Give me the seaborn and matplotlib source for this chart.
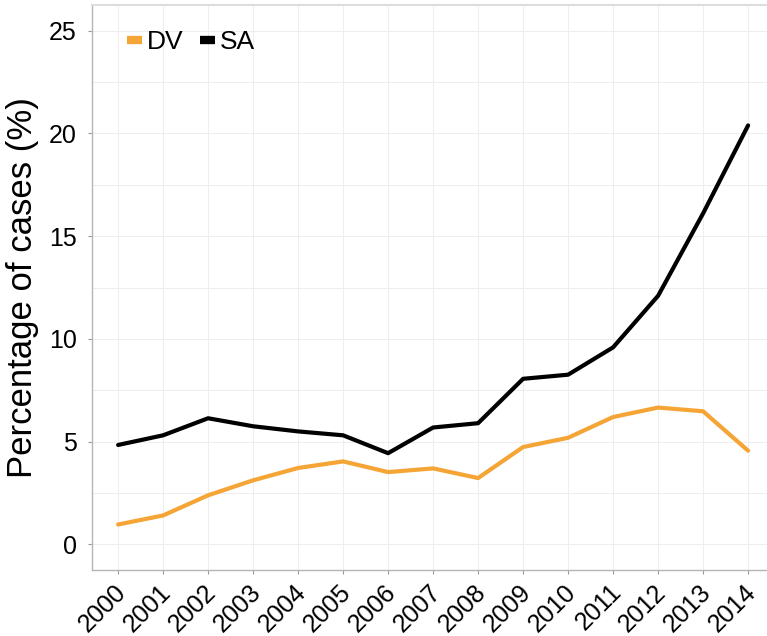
import numpy as np
import pandas as pd
import matplotlib
matplotlib.use("Agg")
import matplotlib.pyplot as plt
from matplotlib.ticker import MultipleLocator
from matplotlib.transforms import ScaledTranslation
import seaborn as sns

years = list(range(2000, 2015))
dv_values = [0.97, 1.41, 2.39, 3.12, 3.72, 4.04, 3.52, 3.70, 3.23, 4.74, 5.19, 6.20, 6.66, 6.48, 4.56]
sa_values = [4.84, 5.31, 6.14, 5.75, 5.50, 5.31, 4.44, 5.69, 5.90, 8.06, 8.26, 9.59, 12.10, 16.11, 20.39]
series_names = ["DV", "SA"]
colors = {"DV": "#F5A536", "SA": "#000000"}
y_label = "Percentage of cases (%)"

df = pd.concat([
    pd.DataFrame({"year": years, "pct": dv_values, "type": "DV"}),
    pd.DataFrame({"year": years, "pct": sa_values, "type": "SA"}),
])

sns.set_theme(style="white")
plt.rcParams["font.family"] = ["Liberation Sans", "DejaVu Sans"]
plt.rcParams["text.color"] = "black"
plt.rcParams["axes.labelcolor"] = "black"
plt.rcParams["xtick.color"] = "black"
plt.rcParams["ytick.color"] = "black"

fig = plt.figure(figsize=(7.67, 6.36), dpi=100)
ax = fig.add_axes([92 / 767, 1 - 569.5 / 636, 1 - 92 / 767, (569.5 - 5) / 636])

sns.lineplot(data=df, x="year", y="pct", hue="type", hue_order=series_names,
             palette=colors, linewidth=3.0, ax=ax, legend=True)

ax.set_xlim(1999.42, 2014.42)
ax.set_ylim(-1.22, 26.25)
ax.set_xticks(years)
ax.set_xticklabels([str(y) for y in years], rotation=45, ha="right", va="center",
                   rotation_mode="anchor", fontsize=18)
ax.yaxis.set_major_locator(MultipleLocator(5))
ax.yaxis.set_minor_locator(MultipleLocator(2.5))
ax.tick_params(axis="y", labelsize=18, pad=8)
ax.tick_params(axis="x", pad=10.7)
ax.tick_params(which="major", length=3, width=0.8, color="#999999",
               labelcolor="black", bottom=True, left=True)
ax.tick_params(which="minor", length=0)
shift = ScaledTranslation(4.5 / 100, 0, fig.dpi_scale_trans)
for lab in ax.get_xticklabels():
    lab.set_transform(lab.get_transform() + shift)
ax.grid(True, which="both", color="#eeeeee", linewidth=0.8)
ax.set_axisbelow(True)

ax.set_xlabel("")
ax.set_ylabel(y_label, fontsize=25, labelpad=7, color="black")

for side in ["left", "bottom"]:
    ax.spines[side].set_color("#b5b5b5")
    ax.spines[side].set_linewidth(1.0)
ax.spines["top"].set_color("#dddddd")
ax.spines["top"].set_linewidth(1.5)
ax.spines["right"].set_visible(False)

handles, labels = ax.get_legend_handles_labels()
leg = ax.legend(handles, labels, loc="center left", bbox_to_anchor=(0.052, 0.934),
                ncol=2, frameon=False, fontsize=19, handlelength=0.57,
                handletextpad=0.19, columnspacing=0.6, borderpad=0,
                borderaxespad=0)
for text in leg.get_texts():
    text.set_color("black")
for line in leg.get_lines():
    line.set_linewidth(6)
    line.set_solid_capstyle("butt")

fig.savefig("out.png", dpi=100)
